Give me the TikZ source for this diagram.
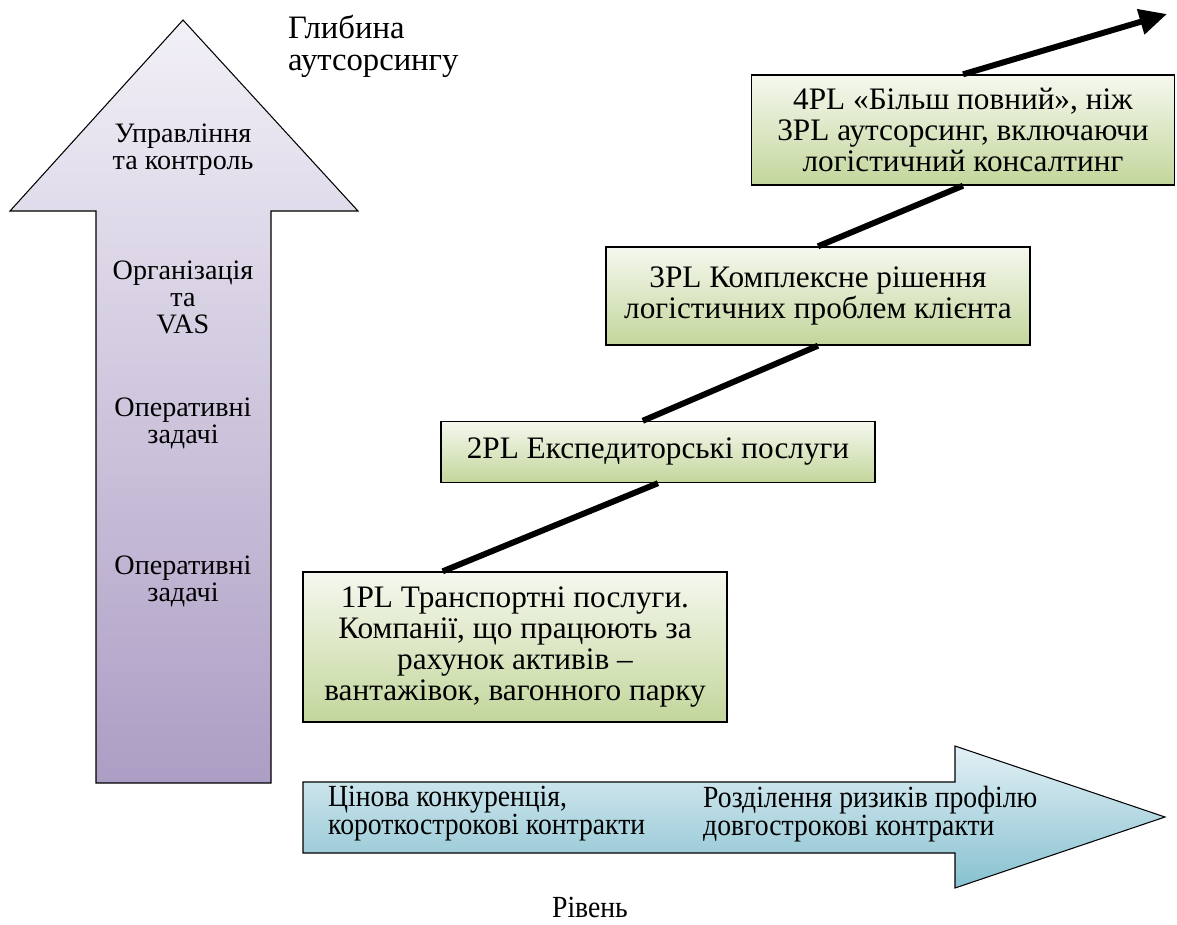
\documentclass[tikz,border=0pt]{standalone}
\usepackage{fontspec}
\setmainfont{Liberation Serif}
\newfontfamily\narrowfont[FakeStretch=0.9]{Liberation Serif}
\usetikzlibrary{arrows.meta, calc}

\definecolor{lavtop}{RGB}{242,240,247}
\definecolor{lavbot}{RGB}{172,157,196}
\definecolor{greentop}{RGB}{245,248,239}
\definecolor{greenbot}{RGB}{195,214,155}
\definecolor{bluetop}{RGB}{226,240,245}
\definecolor{bluebot}{RGB}{135,193,208}

\begin{document}
\begin{tikzpicture}[x=0.02cm, y=-0.02cm,
    stage/.style={draw, line width=0.8pt, top color=greentop, bottom color=greenbot,
      align=center, inner sep=2pt, font=\fontsize{17.8}{17.6}\selectfont},
    level/.style={align=center, font=\fontsize{16}{15.4}\selectfont},
    lowtext/.style={align=left, font=\narrowfont\fontsize{17.5}{15.9}\selectfont},
    link/.style={line width=3.4pt}]
	\useasboundingbox (0,0) rectangle (1177,924);

	% Draw the vertical arrow
	\draw[line width=0.6pt, top color=lavtop, bottom color=lavbot]
		(183,20) -- (358,211) -- (271,211) -- (271,783) -- (96,783) -- (96,211) -- (10,211) -- cycle;

	\node[level] (ctrl) at (183,150) {Управління\\та контроль};
	\node[level] (org) at (183,297) {Організація\\та\\VAS};
	\node[level] (oper2) at (183,423) {Оперативні\\задачі};
	\node[level] (oper1) at (183,581) {Оперативні\\задачі};

	\node[align=left, anchor=west, font=\fontsize{18.6}{18.2}\selectfont] (depth) at (282,46) {Глибина\\аутсорсингу};

	% Draw the horizontal arrow
	\draw[line width=0.6pt, top color=bluetop, bottom color=bluebot]
		(303,782) -- (955,782) -- (955,746) -- (1165,817) -- (955,888) -- (955,853) -- (303,853) -- cycle;

	\node[lowtext, anchor=west] (price) at (322,814) {Цінова конкуренція,\\короткострокові контракти};
	\node[lowtext, anchor=west] (risk) at (697,814) {Розділення ризиків профілю\\довгострокові контракти};
	\node[lowtext] (lvl) at (590,907) {Рівень};

	% Draw the stages
	\node[stage, minimum width=8.48cm, minimum height=3cm] (pl1) at (515,647)
		{1PL Транспортні послуги.\\Компанії, що працюють за\\рахунок активів –\\вантажівок, вагонного парку};
	\node[stage, minimum width=8.68cm, minimum height=1.22cm] (pl2) at (658,452)
		{2PL Експедиторські послуги};
	\node[stage, minimum width=8.48cm, minimum height=1.96cm] (pl3) at (818,296)
		{3PL Комплексне рішення\\логістичних проблем клієнта};
	\node[stage, minimum width=8.46cm, minimum height=2.2cm] (pl4) at (963,130)
		{4PL «Більш повний», ніж\\3PL аутсорсинг, включаючи\\логістичний консалтинг};

	% Draw the links between the stages
	\coordinate (end) at (1167,14);
	\draw[link] ($(pl1.north west)!0.33!(pl1.north east)$) -- (pl2.south);
	\draw[link] ($(pl2.north west)!0.465!(pl2.north east)$) -- (pl3.south);
	\draw[link] (pl3.north) -- (pl4.south);
	\draw[link, -{Triangle[length=0.55cm, width=0.5cm]}] (pl4.north) -- (end);
\end{tikzpicture}
\end{document}
